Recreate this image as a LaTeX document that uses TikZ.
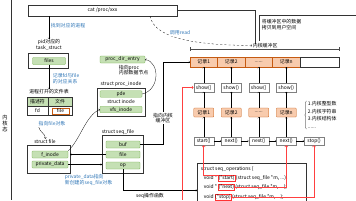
\documentclass[tikz,border=0pt]{standalone}
\usepackage{fontspec}
\setmainfont{Noto Sans CJK SC}
\usetikzlibrary{positioning, decorations.pathreplacing}

\definecolor{boxgreen}{HTML}{C5E0B4}
\definecolor{linegreen}{HTML}{70AD47}
\definecolor{recorange}{HTML}{F8CBAD}
\definecolor{lineorange}{HTML}{C55A11}
\definecolor{noteblue}{HTML}{2E75B6}

\newcommand{\recdots}{......}

\tikzset{
    every node/.style={font=\fontsize{7}{8}\selectfont, inner sep=1pt},
    framebox/.style={draw=black!80, fill=white},
    fieldbox/.style={draw=linegreen, fill=boxgreen, rounded corners=1pt, minimum width=1.7cm, minimum height=0.35cm},
    cellhead/.style={draw=black!80, fill=boxgreen, minimum height=0.45cm},
    cellbox/.style={draw=black!80, fill=white, minimum height=0.45cm},
    recbox/.style={draw=lineorange, fill=recorange, minimum width=1.375cm, minimum height=0.5cm},
    itembox/.style={draw=lineorange, fill=recorange, rounded corners=1pt, minimum width=1cm, minimum height=0.45cm},
    fnbox/.style={draw=black!50, fill=white, minimum width=1cm, minimum height=0.42cm},
    opfn/.style={draw=red!80, inner sep=0.5pt},
    note/.style={text=noteblue, align=left},
    redline/.style={draw=red!75, thick},
}

\begin{document}
\begin{tikzpicture}[x=0.05cm, y=-0.05cm]
    \useasboundingbox (0,0) rectangle (356,200);

    % user / kernel
    \draw[black!80] (11,0) -- (11,200);
    \node[align=center, font=\fontsize{7.5}{8.5}\selectfont] (kernel) at (5,123) {内\\核\\态};

    \node[framebox, minimum width=7.45cm, minimum height=0.55cm] (cat) at (102.5,10.5) {cat /proc/xxx};
    \draw[black!80] (cat.east) -- (255,10.5) -- (255,44);
    \draw[black!80] (356,15) -- (259,15) -- (259,41);
    \node[anchor=north west, align=left] (copy) at (261,19) {将缓冲区中的数据\\拷贝到用户空间};

    % task_struct
    \node[align=center] (tasklbl) at (49,45) {pid对应的\\task\_struct};
    \draw[->] (cat.south -| tasklbl) -- (tasklbl.north);
    \node[note, anchor=west] (findnote) at (50,26) {找到对应的进程};

    \node[framebox, minimum width=2cm, minimum height=0.75cm] (task) at (48,60.5) {};
    \node[fieldbox, minimum width=1.65cm] (files) at (49,61) {files};

    \node (fdtitle) at (49,92) {进程打开的文件表};
    \draw[->] (files.south) -- (fdtitle.north);
    \node[note, anchor=west] (fdnote) at (52,78.5) {记录fd与file\\的对应关系};

    \node[cellhead, minimum width=1.05cm] (hfd) at (37.5,101.5) {描述符};
    \node[cellhead, minimum width=1.2cm] (hfile) at (60,101.5) {文件};
    \node[cellbox, minimum width=1.05cm] (cfd) at (37.5,110.5) {fd};
    \node[cellbox, minimum width=1.2cm] (cfile) at (60,110.5) {};
    \node[draw=lineorange, fill=white, minimum width=0.85cm, minimum height=0.3cm] (fdfile) at (60.5,111) {file};

    \node[note] (filenote) at (52,124) {指向file对象};

    % struct file
    \node (filelbl) at (45,141.5) {struct file};
    \draw[->] ([xshift=0.05cm]filenote.south west) to[out=-80, in=90] ([xshift=0.6cm]filelbl.north west);
    \node[framebox, minimum width=2.15cm, minimum height=1.4cm] (filebox) at (48.5,159) {};
    \node[fieldbox, minimum width=1.8cm] (finode) at (50,154.5) {f\_inode};
    \node[fieldbox, minimum width=1.8cm] (fpriv) at (50,164.5) {private\_data};
    \node[note, anchor=west] (privnote) at (64,180) {private\_data指向\\新创建的seq\_file对象};

    % proc
    \node[fieldbox, minimum width=2.25cm] (procentry) at (122.5,59.5) {proc\_dir\_entry};
    \node[align=left, anchor=west] (pdenote) at (118,70) {指向proc\\内部数据节点};
    \node (pinodelbl) at (121,84) {struct proc\_inode};
    \node[framebox, minimum width=2.4cm, minimum height=1.4cm] (pinode) at (121,102) {};
    \node[fieldbox, minimum width=2.1cm, minimum height=0.3cm] (pde) at (121,94) {pde};
    \node (inodelbl) at (121,102) {struct inode};
    \node[fieldbox, minimum width=2.1cm, minimum height=0.3cm] (vfs) at (121,109.5) {vfs\_inode};
    \draw[->] (pde.east) .. controls (160,90) and (160,62) .. (procentry.east);
    \draw[->] (finode.north east) .. controls (80,140) and (86,115) .. (vfs.west);

    % struct seq_file
    \node (seqlbl) at (118,132) {struct seq\_file};
    \node[framebox, minimum width=2.05cm, minimum height=1.9cm] (seqbox) at (122.5,154) {};
    \node[fieldbox] (buf) at (123,144.5) {buf};
    \node[fieldbox] (sfile) at (123,154.5) {file};
    \node[fieldbox] (op) at (123,165.5) {op};
    \draw[->] (sfile.west) -- (filebox.east |- sfile.west);
    \draw[->] (fpriv.east) -- (seqbox.west |- fpriv.east);

    % kernel buffer
    \node[recbox] (rec1) at (203.75,62) {记录1};
    \node[recbox] (rec2) at (231.25,62) {记录2};
    \node[recbox] (rec3) at (258.75,62) {\recdots};
    \node[recbox] (rec4) at (286.25,62) {记录n};
    \node[draw=black!80, minimum width=1.95cm, minimum height=0.5cm] (recfree) at (319.5,62) {};
    \draw[|-|, black!70] ([yshift=0.4cm]rec1.north west) -- ([yshift=0.4cm]recfree.north east);

    \node[anchor=west] (bufname) at (252,45.5) {内核缓冲区};
    \draw[dashed, ->] ([xshift=2.375cm]cat.south) .. controls (155,40) and (200,45) .. (bufname.west);
    \node[note, fill=white] (readnote) at (180,33) {调用read};

    \coordinate (bufup) at (163,62);
    \draw[->] (buf.east) -| (bufup) -- (rec1.west);
    \node[fill=white, align=center] (bufnote) at (163,118) {指向内核\\缓冲区};

    % show / records
    \foreach \i/\x/\t in {1/203.75/记录1, 2/231.25/记录2, 3/258.75/\recdots, 4/286.25/记录n} {
        \node[fnbox] (show\i) at (\x,87.5) {show()};
        \node[itembox] (item\i) at (\x,112.5) {\t};
        \draw[->] (show\i) -- (rec\i);
        \draw[->] (item\i) -- (show\i);
    }

    \node[anchor=west, align=left, font=\fontsize{7}{10.5}\selectfont] (types) at (307,115) {1.内核整型数\\2.内核字符串\\3.内核结构体\\\recdots};
    \draw[decorate, decoration={brace, amplitude=2pt}] ([xshift=-1pt]types.south west) -- ([xshift=-1pt]types.north west);

    % iterator
    \node[fnbox] (start) at (203.75,141) {start()};
    \node[fnbox] (next1) at (231.25,141) {next()};
    \node[fnbox] (next2) at (258.75,141) {next()};
    \node[fnbox] (next3) at (286.25,141) {next()};
    \node[fnbox] (stop) at (314,141) {stop()};
    \draw[->] (start) -- (next1);
    \draw[->] (next1) -- (next2);
    \draw[->] (next2) -- (next3);
    \draw[->] (next3) -- (stop);
    \draw[->] (start) -- (item1);
    \draw[->] (next1) -- (item2);
    \draw[->] (next2) -- (item3);
    \draw[->] (next3) -- (item4);

    % seq_operations
    \node[framebox, anchor=north west, minimum width=5.45cm, minimum height=2.2cm] (opsbox) at (197,163) {};
    \node[anchor=west] (ophead) at (200,169) {struct seq\_operations \{};
    \node[anchor=west] (void1) at (203,177.5) {void *};
    \node[opfn, base right=0pt of void1] (fstart) {(*start)};
    \node[base right=0pt of fstart] (rest1) {(struct seq\_file *m, ...);};
    \node[anchor=west] (void2) at (203,187) {void *};
    \node[opfn, base right=0pt of void2] (fnext) {(*next)};
    \node[base right=0pt of fnext] (rest2) {(struct seq\_file *m, ...);};
    \node[anchor=west] (void3) at (203,196.5) {void};
    \node[opfn, base right=0pt of void3] (fstop) {(*stop)};
    \node[base right=0pt of fstop] (rest3) {(struct seq\_file *m, ...);};

    \draw[->] (op.south) |- (opsbox.west |- fnext.south);
    \node (opnote) at (150,196) {seq操作函数};

    \coordinate (showend) at (182,200);
    \draw[redline, <-] (show1.west) -| (showend);
    \draw[redline, ->] (fstart.north west) -| (start.south);
    \draw[redline, ->] (fnext.east) -| (next3.south);
    \draw[redline, ->] (fstop.east) -| (stop.south);

\end{tikzpicture}
\end{document}
